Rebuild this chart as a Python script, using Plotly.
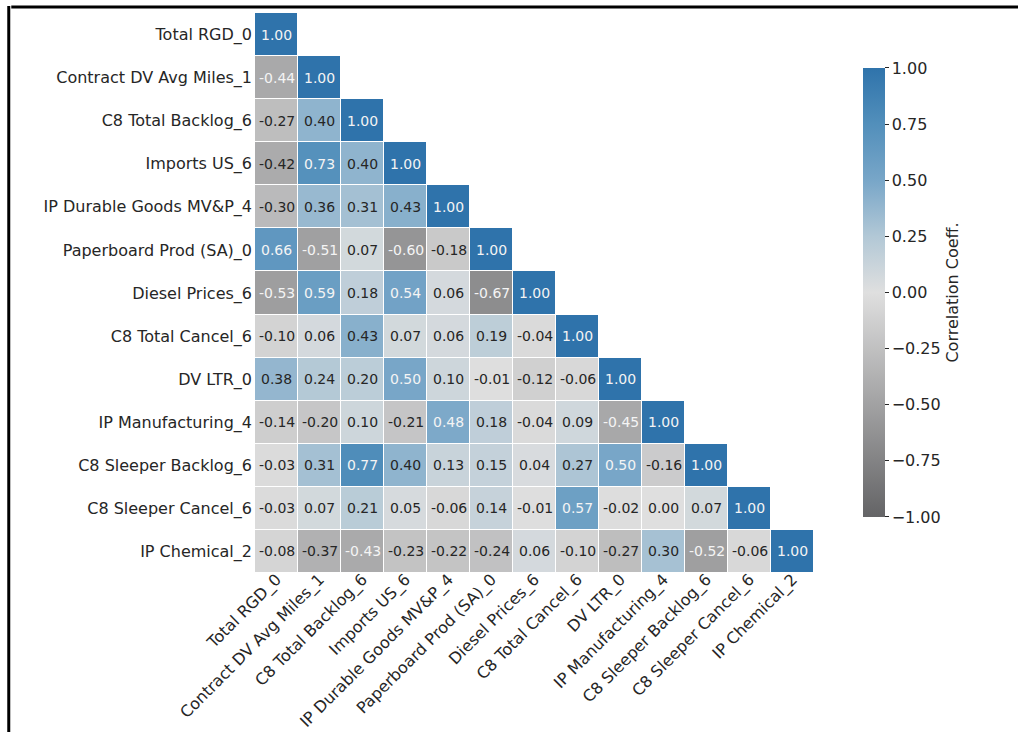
import plotly.graph_objects as go

labels = ["Total RGD_0", "Contract DV Avg Miles_1", "C8 Total Backlog_6", "Imports US_6",
          "IP Durable Goods MV&P_4", "Paperboard Prod (SA)_0", "Diesel Prices_6",
          "C8 Total Cancel_6", "DV LTR_0", "IP Manufacturing_4", "C8 Sleeper Backlog_6",
          "C8 Sleeper Cancel_6", "IP Chemical_2"]

# lower-triangle correlation rows (including diagonal)
rows = [
    [1.00],
    [-0.44, 1.00],
    [-0.27, 0.40, 1.00],
    [-0.42, 0.73, 0.40, 1.00],
    [-0.30, 0.36, 0.31, 0.43, 1.00],
    [0.66, -0.51, 0.07, -0.60, -0.18, 1.00],
    [-0.53, 0.59, 0.18, 0.54, 0.06, -0.67, 1.00],
    [-0.10, 0.06, 0.43, 0.07, 0.06, 0.19, -0.04, 1.00],
    [0.38, 0.24, 0.20, 0.50, 0.10, -0.01, -0.12, -0.06, 1.00],
    [-0.14, -0.20, 0.10, -0.21, 0.48, 0.18, -0.04, 0.09, -0.45, 1.00],
    [-0.03, 0.31, 0.77, 0.40, 0.13, 0.15, 0.04, 0.27, 0.50, -0.16, 1.00],
    [-0.03, 0.07, 0.21, 0.05, -0.06, 0.14, -0.01, 0.57, -0.02, 0.00, 0.07, 1.00],
    [-0.08, -0.37, -0.43, -0.23, -0.22, -0.24, 0.06, -0.10, -0.27, 0.30, -0.52, -0.06, 1.00],
]

cbar_ticks = [-1.0, -0.75, -0.5, -0.25, 0.0, 0.25, 0.5, 0.75, 1.0]
cbar_ticktext = [("\u2212" if t < 0 else "") + f"{abs(t):.2f}" for t in cbar_ticks]

n = len(labels)
z = [[(rows[i][j] if j <= i else None) for j in range(n)] for i in range(n)]

colorscale = [
    [0.0, "rgb(100,100,102)"],
    [0.5, "rgb(223,223,223)"],
    [0.625, "rgb(178,200,214)"],
    [0.75, "rgb(120,166,200)"],
    [0.875, "rgb(82,143,187)"],
    [1.0, "rgb(47,115,171)"],
]

FONT = "DejaVu Sans"
TXT = "#262626"

fig = go.Figure()
fig.add_trace(go.Heatmap(
    z=z, x=labels, y=labels,
    zmin=-1, zmax=1,
    colorscale=colorscale,
    xgap=1, ygap=1,
    hoverongaps=False,
    colorbar=dict(
        x=1.087, xanchor="left", xref="paper", xpad=0,
        y=0.501, yanchor="middle", ypad=0,
        len=0.802, lenmode="fraction",
        thickness=22, thicknessmode="pixels",
        outlinewidth=0,
        tickmode="array", tickvals=cbar_ticks, ticktext=cbar_ticktext,
        ticks="outside", ticklen=4, tickwidth=1, tickcolor=TXT,
        tickfont=dict(family=FONT, size=16, color=TXT),
        title=dict(text="Correlation Coeff.", side="right",
                   font=dict(family=FONT, size=16, color=TXT)),
    ),
))

annotations = []
for i in range(n):
    for j in range(i + 1):
        v = rows[i][j]
        col = "#f4f4f4" if (v >= 0.45 or v <= -0.43) else TXT
        annotations.append(dict(
            x=labels[j], y=labels[i], text=f"{v:.2f}", showarrow=False,
            font=dict(family=FONT, size=14, color=col),
        ))

shapes = [
    dict(type="line", xref="paper", yref="paper", x0=-0.436, x1=1.372,
         y0=1.0107, y1=1.0107, line=dict(color="black", width=3)),
    dict(type="line", xref="paper", yref="paper", x0=-0.4405, x1=-0.4405,
         y0=1.0125, y1=-0.30, line=dict(color="black", width=3)),
]

fig.update_layout(
    width=1018, height=732,
    margin=dict(l=255, r=204, t=13, b=159),
    paper_bgcolor="white", plot_bgcolor="white",
    font=dict(family=FONT, size=16, color=TXT),
    annotations=annotations,
    shapes=shapes,
    xaxis=dict(tickangle=-45, showgrid=False, zeroline=False, ticks="",
               tickfont=dict(family=FONT, size=16, color=TXT),
               showline=False, automargin=False, ticklabelstandoff=-7),
    yaxis=dict(autorange="reversed", showgrid=False, zeroline=False, ticks="",
               tickfont=dict(family=FONT, size=16, color=TXT),
               showline=False, automargin=False, ticklabelstandoff=2),
)

fig.write_html("out.html")
